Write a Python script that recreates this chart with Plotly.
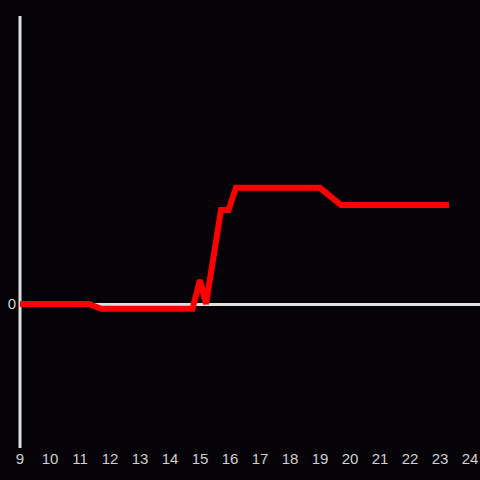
import plotly.graph_objects as go

# values (hour of day vs. level)
hours = [9, 11.3, 11.7, 14.75, 15.0, 15.2, 15.7, 15.95, 16.2, 19.0, 19.7, 23.3]
level = [0, 0, -0.05, -0.05, 0.25, 0, 0.98, 0.98, 1.21, 1.21, 1.03, 1.03]
x_ticks = list(range(9, 25))
y_ticks = [0]

fig = go.Figure()
fig.add_trace(go.Scatter(
    x=hours, y=level,
    mode='lines',
    line=dict(color='#ff0000', width=6),
    showlegend=False,
))

fig.update_layout(
    width=480, height=480,
    margin=dict(l=20, r=0, t=16, b=32),
    paper_bgcolor='#050307',
    plot_bgcolor='#050307',
    font=dict(family='Liberation Sans, Arial, sans-serif', size=15, color='#d0d0d0'),
    xaxis=dict(
        range=[9, 9 + 460 / 30],
        tickvals=x_ticks,
        showgrid=False,
        zeroline=False,
        showline=False,
        ticks='',
    ),
    yaxis=dict(
        range=[-1.5, 3],
        tickvals=y_ticks,
        showgrid=False,
        zeroline=True,
        zerolinecolor='#e0e0e0',
        zerolinewidth=3,
        showline=False,
        ticks='',
        ticklabelstandoff=3,
    ),
    # y axis line drawn in paper coords so it is not clipped at the plot edge
    shapes=[dict(type='line', xref='paper', yref='paper', x0=0, x1=0, y0=0, y1=1,
                 line=dict(color='#e0e0e0', width=3), layer='below')],
)

fig.write_html("out.html", config={'displayModeBar': False},
               post_script="document.body.style.margin='0';")
